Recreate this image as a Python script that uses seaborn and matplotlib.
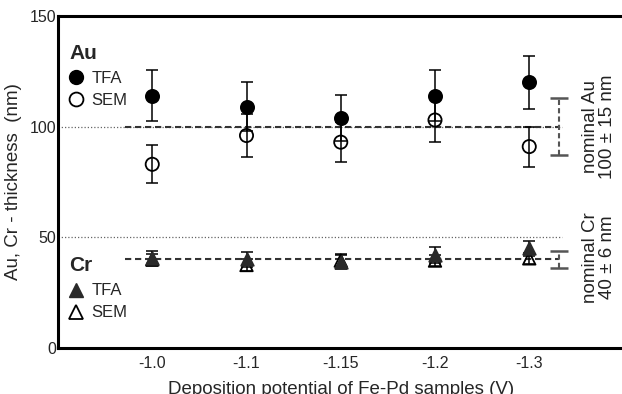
import numpy as np
import pandas as pd
import matplotlib
matplotlib.use("Agg")
import matplotlib.pyplot as plt
import seaborn as sns
from matplotlib.lines import Line2D

# ---- data ----
potentials = ["-1.0", "-1.1", "-1.15", "-1.2", "-1.3"]
au_tfa = [114, 109, 104, 114, 120]
au_tfa_err = [11.5, 11, 10.5, 11.5, 12]
au_sem = [83, 96, 93, 103, 91]
au_sem_err = [8.5, 9.5, 9, 10, 9]
cr_tfa = [40.5, 40, 39, 42, 45]
cr_tfa_err = [3.5, 3.5, 3.5, 3.5, 3.5]
cr_sem = [40, 37.5, 39.5, 39.5, 40.5]
cr_sem_err = [2.5, 2.5, 2.5, 2.5, 2.5]
nominal_au, nominal_au_err = 100, 13
nominal_cr, nominal_cr_err = 40, 4
yticks = [0, 50, 100, 150]

sns.set_style("white")
plt.rcParams["font.family"] = ["Liberation Sans", "DejaVu Sans"]

df = pd.DataFrame({
    "potential": potentials * 4,
    "value": au_tfa + au_sem + cr_tfa + cr_sem,
    "err": au_tfa_err + au_sem_err + cr_tfa_err + cr_sem_err,
    "series": ["Au TFA"] * 5 + ["Au SEM"] * 5 + ["Cr TFA"] * 5 + ["Cr SEM"] * 5,
})

fig = plt.figure(figsize=(6.22, 3.94), dpi=100)
ax = fig.add_axes([58 / 622, 46 / 394, 565.5 / 622, 332 / 394])

xpos = np.arange(len(potentials))
lw_bar = 1.1

# reference lines
ax.hlines([100, 50], -1, 4.35, colors="#666666", linestyles=(0, (1, 1.6)), lw=0.9, zorder=1)
ax.hlines([nominal_au, nominal_cr], -0.29, 4.32, colors="#333333",
          linestyles=(0, (3, 1.8)), lw=1.5, zorder=2)

# nominal bars
for val, err in [(nominal_au, nominal_au_err), (nominal_cr, nominal_cr_err)]:
    eb = ax.errorbar([4.32], [val], yerr=[err], fmt="none", ecolor="#555555",
                     elinewidth=1.5, capsize=6.5, capthick=1.8, zorder=2)
    eb[2][0].set_linestyle((0, (2.5, 1.5)))

styles = {
    "Au TFA": dict(marker="o", mfc="black", mec="black", ms=9.5),
    "Au SEM": dict(marker="o", mfc="none", mec="black", ms=9.5),
    "Cr SEM": dict(marker="^", mfc="none", mec="black", ms=9),
    "Cr TFA": dict(marker="^", mfc="#2a2a2a", mec="#2a2a2a", ms=9),
}
for name in ["Au SEM", "Au TFA", "Cr SEM", "Cr TFA"]:
    sub = df[df.series == name]
    ax.errorbar(xpos, sub["value"], yerr=sub["err"], fmt="none", ecolor="black",
                elinewidth=lw_bar, capsize=4.5, capthick=lw_bar, zorder=3)
    st = styles[name]
    sns.scatterplot(data=sub, x="potential", y="value", ax=ax, marker=st["marker"],
                    s=st["ms"] ** 2, facecolor=st["mfc"], edgecolor=st["mec"],
                    linewidth=1.3, zorder=4, legend=False)

ax.set_xlim(-1, 5)
ax.set_ylim(0, 150)
ax.set_xticks(xpos)
ax.set_xticklabels(potentials)
ax.set_yticks(yticks)
ax.set_yticklabels([str(t) for t in yticks])
ax.tick_params(axis="x", direction="in", length=3, width=1, labelsize=11.5, pad=6)
ax.tick_params(axis="y", length=0, labelsize=11.5, pad=1)
for s in ["left", "bottom", "top"]:
    ax.spines[s].set_linewidth(2.2)
    ax.spines[s].set_color("black")
ax.spines["right"].set_visible(False)

ax.set_xlabel("Deposition potential of Fe-Pd samples (V)", fontsize=13.5, labelpad=7)
ax.set_ylabel("Au, Cr - thickness  (nm)", fontsize=13.5, labelpad=6)

# legends
def make_legend(handles, labels, title, anchor):
    leg = ax.legend(handles, labels, title=title, loc="upper left",
                    bbox_to_anchor=anchor, bbox_transform=fig.transFigure,
                    frameon=False, fontsize=12, handlelength=0.8, handletextpad=0.55,
                    labelspacing=0.42, borderpad=0, borderaxespad=0,
                    title_fontproperties={"weight": "bold", "size": 15})
    leg._legend_box.align = "left"
    leg._legend_box.sep = 6
    return leg

au_handles = [Line2D([], [], ls="none", marker="o", mfc="black", mec="black", ms=10),
              Line2D([], [], ls="none", marker="o", mfc="none", mec="black", ms=10, mew=1.3)]
cr_handles = [Line2D([], [], ls="none", marker="^", mfc="#2a2a2a", mec="#2a2a2a", ms=10),
              Line2D([], [], ls="none", marker="^", mfc="none", mec="black", ms=10, mew=1.3)]
leg1 = make_legend(au_handles, ["TFA", "SEM"], "Au", (69 / 622, 1 - 44 / 394))
ax.add_artist(leg1)
make_legend(cr_handles, ["TFA", "SEM"], "Cr", (69 / 622, 1 - 256 / 394))

# nominal labels
ax.text(4.74, 100, "nominal Au\n100 ± 15 nm", rotation=90, ha="center", va="center",
        fontsize=13.5, color="#222222", linespacing=1.0)
ax.text(4.74, 41, "nominal Cr\n40 ± 6 nm", rotation=90, ha="center", va="center",
        fontsize=13.5, color="#222222", linespacing=1.0)

fig.savefig("out.png", dpi=100)
